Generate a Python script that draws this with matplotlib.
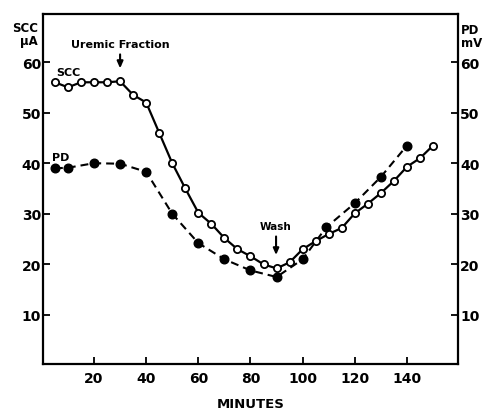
import matplotlib
matplotlib.use("Agg")
import matplotlib.pyplot as plt

plt.rcParams["font.family"] = ["DejaVu Sans"]
plt.rcParams["font.weight"] = "bold"

# short-circuit current, every 5 min
SCC_MIN = [5, 10, 15, 20, 25, 30, 35, 40, 45, 50, 55, 60, 65, 70, 75, 80, 85, 90,
           95, 100, 105, 110, 115, 120, 125, 130, 135, 140, 145, 150]
SCC_UA = [56, 55, 56, 56, 56, 56.2, 53.5, 52, 46, 40, 35, 30.2, 28, 25.2, 23, 21.6,
          20, 19.2, 20.4, 23, 24.6, 26, 27.2, 30.1, 32, 34.1, 36.5, 39.3, 41, 43.5]

# potential difference
PD_MIN = [5, 10, 20, 30, 40, 50, 60, 70, 80, 90, 100, 109, 120, 130, 140]
PD_MV = [39, 39.1, 40, 39.9, 38.3, 30, 24.2, 21, 18.8, 17.5, 21, 27.3, 32.1, 37.3, 43.5]

X_TICKS = [20, 40, 60, 80, 100, 120, 140]
Y_TICKS = [10, 20, 30, 40, 50, 60]

fig = plt.figure(figsize=(4.85, 4.1), dpi=100)
ax = fig.add_axes([43 / 485, 1 - 365 / 410, 415 / 485, 350 / 410])

ax.plot(SCC_MIN, SCC_UA, color="black", lw=1.6, marker="o", ms=5.2,
        mfc="white", mec="black", mew=1.3, zorder=3)
ax.plot(PD_MIN, PD_MV, color="black", lw=1.5, ls=(0, (3.8, 2.4)), marker="o",
        ms=6.2, mfc="black", mec="black", zorder=2)

ax.set_xlim(0.44, 159.56)
ax.set_ylim(0.3, 69.5)
ax.set_xticks(X_TICKS)
ax.set_yticks(Y_TICKS)
ax.tick_params(direction="in", length=5, width=1.3, labelsize=10, pad=2)
ax.tick_params(axis="y", right=True, labelright=True, pad=1.5)
ax.tick_params(axis="x", pad=5)
for s in ax.spines.values():
    s.set_linewidth(1.6)
for lab in ax.get_xticklabels() + ax.get_yticklabels():
    lab.set_fontweight("bold")

ax.set_xlabel("MINUTES", fontsize=9.5, fontweight="bold", labelpad=9)

ax.text(-0.012, 0.943, "SCC\n\u03bcA", transform=ax.transAxes, ha="right",
        va="center", fontsize=8.5, fontweight="bold", linespacing=0.95)
ax.text(1.007, 0.937, "PD\nmV", transform=ax.transAxes, ha="left",
        va="center", fontsize=8.5, fontweight="bold", linespacing=0.95)

arrow = dict(arrowstyle="-|>,head_length=0.5,head_width=0.22", color="black", lw=1.5)
ax.annotate("Uremic Fraction", xy=(30, 58.2), xytext=(30, 63.6), ha="center",
            va="center", fontsize=8, fontweight="bold", arrowprops=arrow)
ax.annotate("Wash", xy=(89.8, 21.3), xytext=(89.8, 27.6), ha="center",
            va="center", fontsize=7.5, fontweight="bold", arrowprops=arrow)

ax.text(10, 58.1, "SCC", ha="center", va="center", fontsize=8, fontweight="bold")
ax.text(7.3, 41.3, "PD", ha="center", va="center", fontsize=8, fontweight="bold")

fig.savefig("out.png", dpi=100)
